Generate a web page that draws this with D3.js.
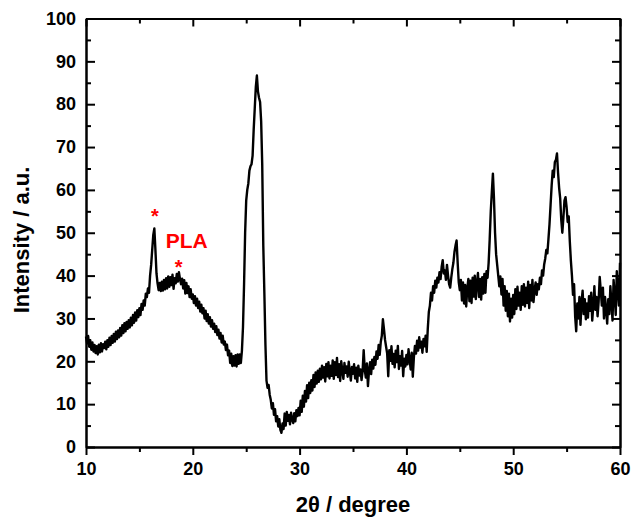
<!DOCTYPE html>
<html>
<head>
<meta charset="utf-8">
<script src="https://cdn.jsdelivr.net/npm/d3@7"></script>
<style>
    body { margin: 0; background: #fff; }
    svg  { display: block; font-family: "Liberation Sans", Arial, sans-serif; font-weight: bold; }
</style>
</head>
<body>
<div id="chart"></div>
<script>
// scan grid: 2θ from 10° in 0.1° steps
const START_ANGLE = 10;
const STEP        = 0.1;

const intensity10to20 = [
    25.8, 24.2, 25.9, 23.4, 24.9, 22.7, 24.4, 22.3, 23.8, 21.9,
    23.5, 21.6, 23.9, 22.1, 24.2, 22.3, 24.0, 23.1, 24.6, 22.8,
    24.9, 23.4, 25.5, 23.8, 25.9, 24.3, 26.4, 24.6, 26.9, 25.2,
    27.2, 25.6, 27.8, 26.0, 28.4, 26.6, 28.9, 27.0, 29.2, 27.6,
    29.6, 27.9, 30.2, 28.4, 30.8, 29.0, 31.4, 29.5, 31.9, 30.3,
    32.4, 30.8, 33.4, 32.0, 34.2, 33.0, 35.8, 35.0, 37.0, 36.0,
    40.0, 42.5, 46.0, 49.5, 51.0, 46.0, 40.5, 38.2, 36.6, 38.3,
    36.4, 38.6, 36.5, 39.0, 36.8, 39.4, 37.0, 39.8, 37.4, 39.6,
    37.8, 40.2, 36.9, 39.4, 38.2, 40.4, 38.6, 40.8, 39.2, 38.0,
    39.3, 37.0, 38.9, 35.8, 38.3, 35.9, 37.5, 35.0, 36.8, 34.6
];

const intensity20to30 = [
    35.6, 33.6, 35.2, 33.0, 34.6, 32.4, 33.9, 31.6, 33.2, 31.2,
    32.4, 30.0, 31.8, 29.4, 31.0, 28.8, 30.3, 28.1, 29.6, 27.6,
    28.8, 26.8, 28.2, 26.1, 27.4, 25.3, 26.6, 24.4, 26.0, 23.9,
    24.6, 22.6, 23.9, 21.4, 22.5, 19.6, 21.8, 18.9, 21.2, 19.0,
    21.4, 18.8, 21.6, 19.4, 21.6, 19.6, 22.5, 28.0, 38.0, 50.0,
    57.5, 60.0, 61.5, 64.5, 65.5, 66.0, 68.0, 74.0, 79.0, 84.0,
    86.7, 83.0, 81.5, 80.5, 76.0, 66.0, 47.0, 36.0, 24.0, 15.5,
    13.8, 14.5, 12.2, 11.0,  9.0, 10.2,  7.5,  8.8,  6.0,  7.2,
     4.8,  6.5,  4.0,  3.3,  5.5,  4.2,  7.8,  5.0,  8.2,  6.1,
     7.5,  5.3,  8.0,  6.4,  5.6,  7.9,  6.0,  8.6,  7.2,  9.1
];

const intensity30to40 = [
     7.4, 10.8,  8.2, 12.0,  9.4, 13.1, 10.6, 14.4, 11.4, 15.0,
    12.6, 15.6, 13.2, 16.8, 14.0, 17.4, 14.8, 17.8, 15.2, 18.3,
    15.8, 19.0, 16.2, 18.6, 15.3, 19.4, 16.5, 19.8, 16.0, 19.0,
    16.6, 20.2, 15.9, 19.8, 16.8, 20.8, 16.3, 19.3, 15.4, 20.0,
    17.8, 15.9, 19.6, 17.3, 18.8, 16.4, 19.9, 17.6, 15.5, 18.7,
    17.1, 19.3, 16.0, 18.5, 15.2, 19.0, 16.7, 18.1, 15.6, 17.7,
    22.6, 18.0, 16.2, 19.5, 14.2, 17.8, 19.8, 17.0, 20.4, 18.3,
    21.0, 19.2, 22.3, 20.6, 23.8, 21.5, 24.5, 26.0, 29.8, 27.5,
    25.0, 23.4, 21.8, 16.5, 22.6, 20.1, 23.5, 19.4, 21.7, 18.6,
    22.5, 19.8, 23.6, 18.2, 21.2, 19.0, 22.4, 16.5, 20.6, 18.8
];

const intensity40to50 = [
    21.5, 19.3, 22.8, 20.4, 18.1, 22.0, 16.4, 20.9, 23.6, 21.8,
    24.8, 22.5, 25.6, 23.2, 24.6, 22.0, 25.2, 23.5, 26.0, 22.2,
    27.5, 31.5, 33.0, 36.0, 34.2, 37.5, 36.0, 38.8, 37.2, 39.5,
    38.4, 40.8, 39.2, 42.0, 43.6, 40.5, 41.2, 39.0, 42.5, 40.0,
    38.0, 37.2, 39.5, 41.5, 43.0, 45.5, 47.0, 48.2, 43.0, 38.5,
    36.6, 39.0, 34.2, 38.4, 33.5, 37.8, 32.8, 37.0, 39.2, 34.0,
    38.8, 33.6, 39.5, 35.1, 40.0, 34.5, 38.3, 40.6, 35.0, 39.2,
    34.4, 39.6, 35.8, 40.4, 36.0, 41.0, 39.5, 43.0, 48.5, 55.0,
    59.5, 63.8, 58.0, 50.0, 45.0, 42.5, 40.0, 37.5, 39.8, 35.6,
    39.2, 33.0, 37.5, 31.8, 36.4, 30.5, 35.8, 29.3, 34.6, 30.2
];

const intensity50to60 = [
    35.5, 31.0, 36.8, 32.2, 37.4, 33.0, 36.0, 32.0, 37.5, 33.2,
    38.0, 32.8, 37.2, 33.6, 38.6, 32.4, 37.8, 34.2, 39.0, 33.8,
    36.6, 38.4, 35.5, 38.0, 36.8, 39.5, 38.0, 41.2, 40.0, 42.6,
    44.0, 46.0, 45.2, 48.5, 52.0, 56.5, 61.0, 64.5, 63.0, 66.5,
    67.0, 68.5, 64.0, 60.5, 58.0, 53.0, 50.0, 53.5, 57.5, 58.3,
    56.0, 52.5, 53.8, 48.0, 43.5, 40.0, 35.5, 38.0, 30.5, 27.0,
    33.5, 30.0, 35.0, 28.5, 33.8, 36.5, 31.0, 34.5, 29.8, 33.5,
    30.2, 35.2, 31.8, 36.0, 29.5, 33.0, 37.5, 32.0, 35.0, 30.5,
    34.0, 39.7, 36.5, 33.0, 37.2, 30.0, 35.0, 32.0, 28.8, 34.5,
    31.0, 37.5, 33.5, 29.5, 39.0, 35.5, 30.8, 41.0, 36.5, 33.0,
    43.0
];

const xTicks      = [10, 20, 30, 40, 50, 60];
const xMinorTicks = [15, 25, 35, 45, 55];
const yTicks      = [0, 10, 20, 30, 40, 50, 60, 70, 80, 90, 100];
const yMinorTicks = [5, 15, 25, 35, 45, 55, 65, 75, 85, 95];

// annotation anchors in data units (2θ, intensity)
const starMarks = [[16.46, 52.2], [18.68, 40.4]];
const peakLabel = ['PLA', 17.46, 46.4];

class XrdChart {
    constructor(elID) {
        this.width  = 632;
        this.height = 518;
        this.margin = { top: 18.5, right: 12, bottom: 71, left: 86 };

        this.svg = this.getSVG(elID);
        this.x   = this.getX();
        this.y   = this.getY();
    }

    getSVG(id) {
        return d3.select('#' + id).append('svg')
                    .attr('width', this.width)
                    .attr('height', this.height);
    }

    getX() {
        return d3.scaleLinear()
                .domain([10, 60])
                .range([this.margin.left, this.width - this.margin.right]);
    }

    getY() {
        return d3.scaleLinear()
                .domain([0, 100])
                .range([this.height - this.margin.bottom, this.margin.top]);
    }

    getPoints() {
        const values = [].concat(intensity10to20, intensity20to30, intensity30to40,
                                 intensity40to50, intensity50to60);
        return values.map((v, i) => ({ t: START_ANGLE + i * STEP, v: v }));
    }

    styleAxis(g, fontSize) {
        g.attr('font-family', null).attr('font-size', fontSize).attr('font-weight', 'bold');
        g.selectAll('path, line').attr('stroke', '#000').attr('stroke-width', 2);
        g.selectAll('text').attr('fill', '#000');
        return g;
    }

    drawAxes() {
        const bottom = this.height - this.margin.bottom;
        const right  = this.width - this.margin.right;

        const addAxis = (axis, transform) => this.styleAxis(
            this.svg.append('g').attr('transform', transform).call(axis), 18);

        addAxis(d3.axisBottom(this.x).tickValues(xTicks).tickSize(8).tickPadding(7).tickSizeOuter(0),
                `translate(0,${bottom})`);
        addAxis(d3.axisBottom(this.x).tickValues(xMinorTicks).tickSize(5).tickFormat('').tickSizeOuter(0),
                `translate(0,${bottom})`);

        addAxis(d3.axisLeft(this.y).tickValues(yTicks).tickSizeInner(-9).tickPadding(10).tickSizeOuter(0),
                `translate(${this.margin.left},0)`);
        addAxis(d3.axisLeft(this.y).tickValues(yMinorTicks).tickSizeInner(-5).tickFormat('').tickSizeOuter(0),
                `translate(${this.margin.left},0)`);

        addAxis(d3.axisTop(this.x).tickValues(xTicks).tickSizeInner(-8).tickFormat('').tickSizeOuter(0),
                `translate(0,${this.margin.top})`);
        addAxis(d3.axisTop(this.x).tickValues(xMinorTicks).tickSizeInner(-5).tickFormat('').tickSizeOuter(0),
                `translate(0,${this.margin.top})`);

        addAxis(d3.axisRight(this.y).tickValues(yTicks).tickSizeInner(-8).tickFormat('').tickSizeOuter(0),
                `translate(${right},0)`);
        addAxis(d3.axisRight(this.y).tickValues(yMinorTicks).tickSizeInner(-5).tickFormat('').tickSizeOuter(0),
                `translate(${right},0)`);
    }

    drawLine() {
        const line = d3.line()
                        .x(d => this.x(d.t))
                        .y(d => this.y(d.v));

        this.svg.append('path')
                .datum(this.getPoints())
                .attr('fill', 'none')
                .attr('stroke', '#000')
                .attr('stroke-width', 2.4)
                .attr('stroke-linejoin', 'round')
                .attr('d', line);
    }

    drawLabels() {
        this.svg.selectAll('.star')
                .data(starMarks)
                .enter().append('text')
                    .attr('class', 'star')
                    .attr('x', d => this.x(d[0]))
                    .attr('y', d => this.y(d[1]))
                    .attr('text-anchor', 'middle')
                    .attr('font-size', 20)
                    .attr('fill', '#ff0000')
                    .text('*');

        this.svg.append('text')
                .attr('x', this.x(peakLabel[1]))
                .attr('y', this.y(peakLabel[2]))
                .attr('font-size', 21)
                .attr('fill', '#ff0000')
                .text(peakLabel[0]);

        this.svg.append('text')
                .attr('x', (this.margin.left + this.width - this.margin.right) / 2)
                .attr('y', 512)
                .attr('text-anchor', 'middle')
                .attr('font-size', 22)
                .text('2θ / degree');

        this.svg.append('text')
                .attr('transform', 'translate(29,240) rotate(-90)')
                .attr('text-anchor', 'middle')
                .attr('font-size', 22)
                .text('Intensity / a.u.');
    }

    run() {
        this.drawLine();
        this.drawAxes();
        this.drawLabels();
    }
}

new XrdChart('chart').run();
</script>
</body>
</html>
